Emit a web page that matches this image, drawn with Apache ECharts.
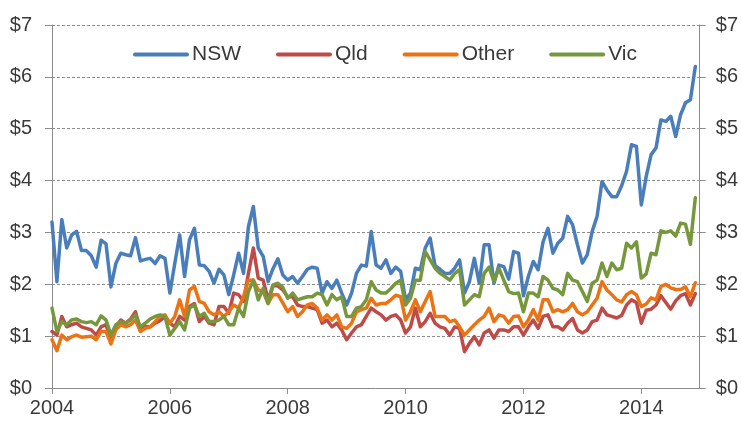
<!DOCTYPE html>
<html>
<head>
<meta charset="utf-8">
<script src="https://cdn.jsdelivr.net/npm/echarts@6/dist/echarts.min.js"></script>
<style>
  html, body { margin: 0; padding: 0; background: #ffffff; }
  #chart { width: 741px; height: 421px; }
</style>
</head>
<body>
<div id="chart"></div>
<script>
// Monthly values, January 2004 to December 2014 (dollars)
const yearLabels = ['2004', '2006', '2008', '2010', '2012', '2014'];
const yTickLabels = ['$0', '$1', '$2', '$3', '$4', '$5', '$6', '$7'];
const seriesNames = ['NSW', 'Qld', 'Other', 'Vic'];

const nsw = [
  3.20, 2.05, 3.25, 2.70, 2.95, 3.02, 2.65, 2.65, 2.55, 2.33, 2.85, 2.78,
  1.95, 2.40, 2.60, 2.57, 2.55, 2.90, 2.45, 2.48, 2.50, 2.40, 2.55, 2.50,
  1.83, 2.40, 2.95, 2.15, 2.86, 3.08, 2.37, 2.36, 2.25, 2.02, 2.29, 2.18,
  1.80, 2.18, 2.60, 2.21, 3.11, 3.50, 2.70, 2.54, 2.05, 2.30, 2.49, 2.18,
  2.08, 2.15, 2.02, 2.15, 2.29, 2.33, 2.31, 1.83, 2.05, 1.92, 2.08, 1.83,
  1.60, 1.83, 2.21, 2.37, 2.35, 3.02, 2.37, 2.31, 2.47, 2.21, 2.33, 2.25,
  1.70, 1.83, 2.31, 2.28, 2.70, 2.89, 2.36, 2.29, 2.21, 2.21, 2.31, 2.47,
  1.83, 2.05, 2.50, 2.02, 2.76, 2.76, 2.02, 2.37, 2.34, 2.10, 2.63, 2.60,
  1.78, 2.15, 2.44, 2.28, 2.82, 3.08, 2.60, 2.79, 2.89, 3.31, 3.15, 2.76,
  2.41, 2.57, 3.02, 3.31, 3.98, 3.82, 3.69, 3.69, 3.90, 4.18, 4.69, 4.66,
  3.53, 4.08, 4.50, 4.63, 5.17, 5.14, 5.24, 4.85, 5.27, 5.50, 5.56, 6.20
];

const qld = [
  1.09, 1.02, 1.38, 1.18, 1.22, 1.25, 1.18, 1.15, 1.12, 1.02, 1.18, 1.22,
  0.93, 1.18, 1.31, 1.25, 1.33, 1.47, 1.12, 1.18, 1.18, 1.25, 1.30, 1.38,
  1.25, 1.18, 1.38, 1.31, 1.57, 1.63, 1.28, 1.38, 1.25, 1.22, 1.57, 1.57,
  1.44, 1.83, 1.80, 1.67, 2.21, 2.70, 2.12, 2.08, 1.70, 1.97, 1.97, 1.89,
  1.76, 1.76, 1.60, 1.57, 1.57, 1.54, 1.51, 1.25, 1.31, 1.18, 1.25, 1.12,
  0.93, 1.06, 1.18, 1.22, 1.38, 1.54, 1.47, 1.41, 1.31, 1.38, 1.41, 1.31,
  1.06, 1.18, 1.54, 1.18, 1.28, 1.44, 1.25, 1.18, 1.15, 1.02, 1.18, 1.15,
  0.70, 0.86, 0.99, 0.83, 1.06, 1.12, 0.96, 1.12, 1.12, 1.09, 1.18, 1.18,
  1.02, 1.18, 1.31, 1.15, 1.38, 1.41, 1.18, 1.18, 1.12, 1.25, 1.34, 1.12,
  1.06, 1.12, 1.28, 1.31, 1.54, 1.41, 1.38, 1.35, 1.40, 1.60, 1.70, 1.65,
  1.25, 1.50, 1.52, 1.60, 1.78, 1.65, 1.52, 1.68, 1.78, 1.82, 1.60, 1.82
];

const other = [
  0.93, 0.72, 1.02, 0.93, 0.99, 1.02, 0.98, 0.99, 1.00, 0.93, 1.09, 1.09,
  0.85, 1.12, 1.22, 1.18, 1.22, 1.31, 1.09, 1.15, 1.18, 1.28, 1.39, 1.41,
  1.25, 1.38, 1.70, 1.38, 1.89, 1.96, 1.67, 1.63, 1.47, 1.41, 1.47, 1.38,
  1.47, 1.60, 1.54, 1.76, 2.08, 2.08, 1.89, 1.86, 1.63, 1.80, 1.80, 1.64,
  1.47, 1.57, 1.38, 1.47, 1.60, 1.63, 1.54, 1.31, 1.41, 1.31, 1.41, 1.18,
  1.15, 1.25, 1.47, 1.51, 1.54, 1.73, 1.60, 1.63, 1.63, 1.70, 1.79, 1.76,
  1.31, 1.47, 1.70, 1.47, 1.67, 1.86, 1.38, 1.38, 1.38, 1.28, 1.31, 1.18,
  1.02, 1.12, 1.22, 1.31, 1.38, 1.54, 1.28, 1.41, 1.38, 1.25, 1.38, 1.39,
  1.18, 1.31, 1.51, 1.31, 1.70, 1.70, 1.47, 1.51, 1.47, 1.51, 1.63, 1.47,
  1.41, 1.47, 1.60, 1.73, 2.05, 1.89, 1.80, 1.70, 1.66, 1.80, 1.86, 1.80,
  1.57, 1.62, 1.74, 1.70, 1.96, 2.00, 1.93, 1.90, 1.90, 1.95, 1.76, 2.03
];

const vic = [
  1.54, 1.09, 1.28, 1.22, 1.31, 1.33, 1.28, 1.26, 1.28, 1.22, 1.39, 1.31,
  1.02, 1.22, 1.28, 1.25, 1.31, 1.41, 1.18, 1.25, 1.33, 1.38, 1.41, 1.38,
  1.02, 1.15, 1.28, 1.12, 1.54, 1.60, 1.38, 1.44, 1.28, 1.28, 1.31, 1.38,
  1.22, 1.22, 1.54, 1.38, 1.86, 2.08, 1.70, 1.92, 1.63, 1.99, 2.02, 1.94,
  1.73, 1.83, 1.70, 1.73, 1.76, 1.76, 1.83, 1.80, 1.60, 1.80, 1.70, 1.76,
  1.38, 1.38, 1.54, 1.57, 1.70, 2.05, 1.89, 1.83, 1.83, 1.92, 2.02, 2.08,
  1.60, 1.73, 2.08, 2.08, 2.63, 2.47, 2.31, 2.21, 2.15, 2.08, 2.21, 2.28,
  1.60, 1.70, 1.80, 1.76, 2.21, 2.33, 2.05, 2.31, 2.08, 1.86, 1.82, 1.83,
  1.47, 1.83, 1.83, 1.76, 2.15, 2.08, 1.92, 1.89, 1.80, 2.21, 2.08, 2.05,
  1.86, 1.67, 2.02, 2.08, 2.41, 2.15, 2.41, 2.28, 2.31, 2.79, 2.70, 2.82,
  2.12, 2.20, 2.60, 2.57, 3.03, 3.00, 3.03, 2.93, 3.18, 3.16, 2.77, 3.67
];

const colors = ['#4A7EBB', '#BE4B48', '#EC7314', '#77973C'];

// pair each value with its month index (0 = Jan 2004)
const toPoints = arr => arr.map((v, i) => [i, v]);

const font = 'Liberation Sans, Arial, sans-serif';
const textColor = '#3a3a3a';
const axisGrey = '#8c8c8c';

function yAxisDef(position, withGrid, labelMargin) {
  return {
    type: 'value',
    position: position,
    min: 0,
    max: 7,
    interval: 1,
    axisLine: { show: true, lineStyle: { color: axisGrey, width: 1 } },
    axisTick: { show: true, length: 7, lineStyle: { color: axisGrey } },
    axisLabel: {
      margin: labelMargin,
      fontFamily: font,
      fontSize: 20,
      color: textColor,
      formatter: v => yTickLabels[Math.round(v)]
    },
    splitLine: {
      show: withGrid,
      lineStyle: { color: '#8c8c8c', type: [3, 2], width: 1 }
    }
  };
}

const chart = echarts.init(document.getElementById('chart'), null, { renderer: 'canvas' });

chart.setOption({
  animation: false,
  backgroundColor: '#ffffff',
  color: colors,
  grid: { left: 52, right: 40, top: 25, bottom: 33, containLabel: false },
  legend: {
    data: seriesNames,
    top: 39,
    left: 128,
    itemWidth: 52,
    itemHeight: 4,
    itemGap: 35,
    textStyle: { fontFamily: font, fontSize: 21, color: textColor },
    lineStyle: { width: 4 }
  },
  xAxis: {
    type: 'value',
    min: 0,
    max: 131.7,
    interval: 24,
    axisLine: { show: true, onZero: false, lineStyle: { color: axisGrey, width: 1 } },
    axisTick: { show: true, length: 6, lineStyle: { color: axisGrey } },
    axisLabel: {
      margin: 10,
      fontFamily: font,
      fontSize: 20,
      color: textColor,
      showMaxLabel: false,
      formatter: v => (v % 24 === 0 ? yearLabels[v / 24] : '')
    },
    splitLine: { show: false }
  },
  yAxis: [yAxisDef('left', true, 20), yAxisDef('right', false, 17)],
  series: [
    { name: 'NSW', data: toPoints(nsw) },
    { name: 'Qld', data: toPoints(qld) },
    { name: 'Other', data: toPoints(other) },
    { name: 'Vic', data: toPoints(vic) }
  ].map(s => ({
    name: s.name,
    type: 'line',
    data: s.data,
    yAxisIndex: 0,
    symbol: 'none',
    smooth: false,
    lineStyle: { width: 3.5, cap: 'round', join: 'round' }
  }))
});
</script>
</body>
</html>
